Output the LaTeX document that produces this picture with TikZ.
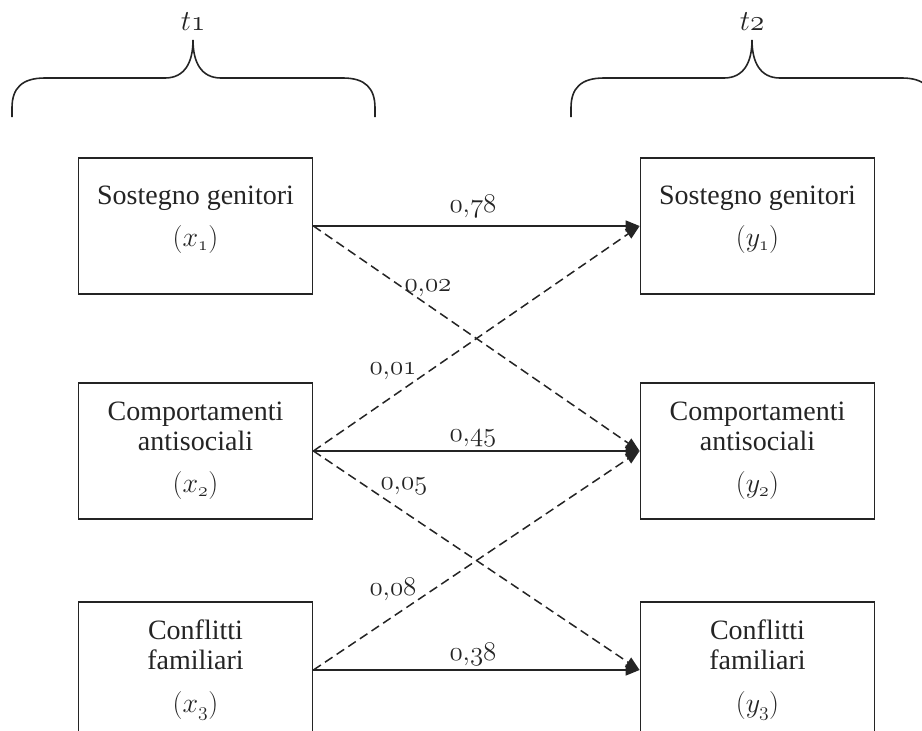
\RequirePackage{fix-cm}
\documentclass[tikz,border=0pt]{standalone}
\usepackage{fontspec}
\setmainfont{Liberation Serif}
\usetikzlibrary{arrows.meta}
\definecolor{ink}{HTML}{242424}
\begin{document}
\begin{tikzpicture}[x=1pt,y=-1pt,
  font=\fontsize{28}{30}\selectfont,
  box/.style={draw=ink, line width=1.8pt, minimum width=234pt, minimum height=136pt,
    align=center, inner sep=0pt, text=ink},
  solidarrow/.style={draw=ink, line width=1.5pt, -{Triangle[length=14pt,width=11pt]}},
  dasharrow/.style={solidarrow, dash pattern=on 9pt off 5pt},
  coef/.style={anchor=base, text=ink, inner sep=0pt, font=\fontsize{27}{30}\selectfont},
  tlabel/.style={anchor=base, text=ink, inner sep=0pt, font=\fontsize{29}{30}\selectfont},
  brace/.style={draw=ink, line width=1.6pt}]
\useasboundingbox (0,0) rectangle (922,731);
\clip (0,0) rectangle (922,731);

% braces
\draw[brace] (12,117) -- (12,108) .. controls (12,88) and (22,78) .. (45,78) -- (165,78)
  .. controls (185,78) and (193,62) .. (193,40)
  .. controls (193,62) and (201,78) .. (221,78) -- (343,78)
  .. controls (365,78) and (375,88) .. (375,108) -- (375,117);
\draw[brace] (571,117) -- (571,108) .. controls (571,88) and (581,78) .. (604,78) -- (724,78)
  .. controls (744,78) and (752,62) .. (752,40)
  .. controls (752,62) and (760,78) .. (780,78) -- (902,78)
  .. controls (924,78) and (934,88) .. (934,108) -- (934,117);
\node[tlabel] (t1) at (193,30) {$t\mathnormal{1}$};
\node[tlabel] (t2) at (752,30) {$t\mathnormal{2}$};

% boxes
\node[box] (x1) at (195.5,226) {Sostegno genitori\\[12pt]$(x_{\mathnormal{1}})$\rule[-20pt]{0pt}{0pt}};
\node[box] (x2) at (195.5,451) {Comportamenti\\antisociali\\[12pt]$(x_{\mathnormal{2}})$};
\node[box] (x3) at (195.5,670) {Conflitti\\familiari\\[13pt]$(x_{\mathnormal{3}})$};
\node[box] (y1) at (757.5,226) {Sostegno genitori\\[12pt]$(y_{\mathnormal{1}})$\rule[-20pt]{0pt}{0pt}};
\node[box] (y2) at (757.5,451) {Comportamenti\\antisociali\\[12pt]$(y_{\mathnormal{2}})$};
\node[box] (y3) at (757.5,670) {Conflitti\\familiari\\[13pt]$(y_{\mathnormal{3}})$};

% arrows
\draw[solidarrow] (x1.east) -- (y1.west);
\draw[solidarrow] (x2.east) -- (y2.west);
\draw[solidarrow] (x3.east) -- (y3.west);
\draw[dasharrow] (x1.east) -- (y2.west);
\draw[dasharrow] (x2.east) -- (y1.west);
\draw[dasharrow] (x2.east) -- (y3.west);
\draw[dasharrow] (x3.east) -- (y2.west);

% coefficients
\node[coef] (c78) at (473,212) {$\mathnormal{0{,}78}$};
\node[coef] (c02) at (428,291) {$\mathnormal{0{,}02}$};
\node[coef] (c01) at (393,374) {$\mathnormal{0{,}01}$};
\node[coef] (c45) at (473,441) {$\mathnormal{0{,}45}$};
\node[coef] (c05) at (404,489) {$\mathnormal{0{,}05}$};
\node[coef] (c08) at (393,595) {$\mathnormal{0{,}08}$};
\node[coef] (c38) at (473,660) {$\mathnormal{0{,}38}$};
\end{tikzpicture}
\end{document}
